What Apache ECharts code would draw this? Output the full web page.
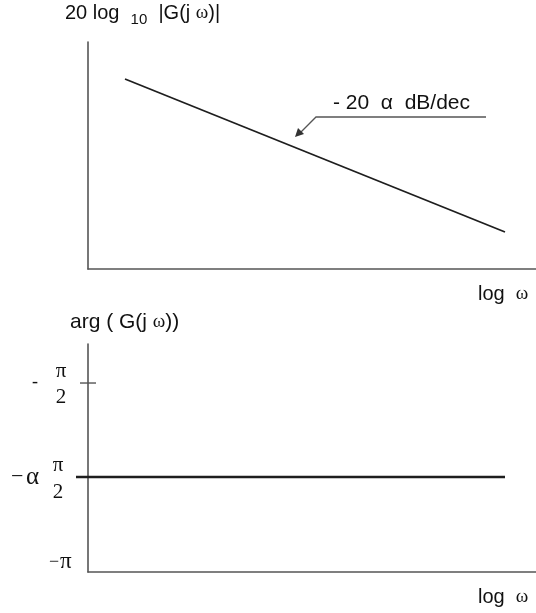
<!DOCTYPE html>
<html>
<head>
<meta charset="utf-8">
<script src="https://cdn.jsdelivr.net/npm/echarts@6/dist/echarts.min.js"></script>
<style>html,body{margin:0;padding:0;background:#fff}#c{width:536px;height:613px}</style>
</head>
<body>
<div id="c"></div>
<script>
// Schematic Bode plot of a fractional-order integrator (units: decades of log ω)
const xRange = [0, 4.48];
// Magnitude asymptote: slope -20α dB/dec (schematic units)
const magX = [0.37, 4.17];
const magY = [1.90, 0.37];
const magRange = [0, 2.27];
// Phase: constant -α·π/2, in units of π/2
const phaseX = [-0.12, 4.17];
const phaseY = -1.525;
const phaseRange = [-2.056, -0.782];
const phaseTicks = [-1];

const axisColor = '#555';
const lineColor = '#1e1e1e';
const sans = 'Liberation Sans, Arial, Helvetica, sans-serif';
const serif = 'Liberation Serif, Times New Roman, serif';

const chart = echarts.init(document.getElementById('c'));

function baseX(gi){
  return {type:'value', gridIndex:gi, min:xRange[0], max:xRange[1],
    axisLine:{show:true, onZero:false, lineStyle:{color:axisColor, width:1.6}},
    axisTick:{show:false}, axisLabel:{show:false}, splitLine:{show:false}};
}
const richW = {w:{fontFamily:serif, fontSize:19, fill:'#111'}, s:{fontSize:15, fontFamily:sans, fill:'#111', padding:[12,0,0,0]}};
function txt(x,y,text,opt){
  return {type:'text', x:x, y:y, style:Object.assign({text:text, fill:'#111', font:'20px '+sans, textVerticalAlign:'middle', rich:richW}, opt||{})};
}

chart.setOption({
  animation:false,
  grid:[
    {left:88, top:42, right:0, height:227},
    {left:88, top:344, right:0, height:228}
  ],
  xAxis:[baseX(0), baseX(1)],
  yAxis:[
    {type:'value', gridIndex:0, position:'left', min:magRange[0], max:magRange[1],
      axisLine:{show:true, onZero:false, lineStyle:{color:axisColor, width:1.6}},
      axisTick:{show:false}, axisLabel:{show:false}, splitLine:{show:false}},
    {type:'value', gridIndex:1, position:'left', min:phaseRange[0], max:phaseRange[1],
      axisLine:{show:true, onZero:false, lineStyle:{color:axisColor, width:1.6}},
      axisTick:{show:false}, axisLabel:{show:false}, splitLine:{show:false}}
  ],
  series:[
    {type:'line', xAxisIndex:0, yAxisIndex:0, data:magX.map((x,i)=>[x,magY[i]]),
      symbol:'none', lineStyle:{color:lineColor, width:1.8}, silent:true},
    {type:'custom', xAxisIndex:1, yAxisIndex:1, clip:false, silent:true,
      data:[[phaseX[0], phaseX[1], phaseY]],
      encode:{x:[0,1], y:2},
      renderItem:function(params, api){
        const p0 = api.coord([api.value(0), api.value(2)]);
        const p1 = api.coord([api.value(1), api.value(2)]);
        return {type:'line', shape:{x1:p0[0], y1:p0[1], x2:p1[0], y2:p1[1]},
          style:{stroke:lineColor, lineWidth:2.4}};
      }},
    // crossing tick mark at -π/2 on the phase axis
    {type:'custom', xAxisIndex:1, yAxisIndex:1, clip:false, silent:true,
      data:phaseTicks.map(v=>[xRange[0], v]),
      renderItem:function(params, api){
        const p = api.coord([api.value(0), api.value(1)]);
        return {type:'line', shape:{x1:p[0]-8, y1:p[1], x2:p[0]+8, y2:p[1]},
          style:{stroke:axisColor, lineWidth:1.4}};
      }}
  ],
  graphic:[
    // magnitude axis title
    {type:'text', x:65, y:27, style:{
      text:'20 log  {s|10}  |G(j {w|ω})|', fill:'#111', font:'20px '+sans, textVerticalAlign:'bottom', rich:richW}},
    txt(478, 294, 'log  {w|ω}'),
    // annotation
    txt(333, 103, '- 20  α  dB/dec', {font:'21px '+sans}),
    {type:'polyline', shape:{points:[[486,117],[316,117],[300,133]]}, style:{stroke:'#555', lineWidth:1.3, fill:null}},
    {type:'polygon', shape:{points:[[295,137],[298,128],[304,134]]}, style:{fill:'#333'}},
    // phase axis title
    txt(70, 322, 'arg ( G(j {w|ω}))', {font:'21px '+sans}),
    txt(478, 597, 'log  {w|ω}'),
    // phase tick labels
    txt(32, 382, '-', {font:'18px '+serif}),
    txt(61, 371, 'π', {font:'21px '+serif, textAlign:'center'}),
    txt(61, 397, '2', {font:'21px '+serif, textAlign:'center'}),
    txt(11, 477, '−', {font:'22px '+serif}),
    txt(26, 477, 'α', {font:'25px '+serif}),
    txt(58, 465, 'π', {font:'21px '+serif, textAlign:'center'}),
    txt(58, 492, '2', {font:'21px '+serif, textAlign:'center'}),
    txt(49, 562, '−', {font:'18px '+serif}),
    txt(60, 562, 'π', {font:'23px '+serif})
  ]
});
</script>
</body>
</html>
